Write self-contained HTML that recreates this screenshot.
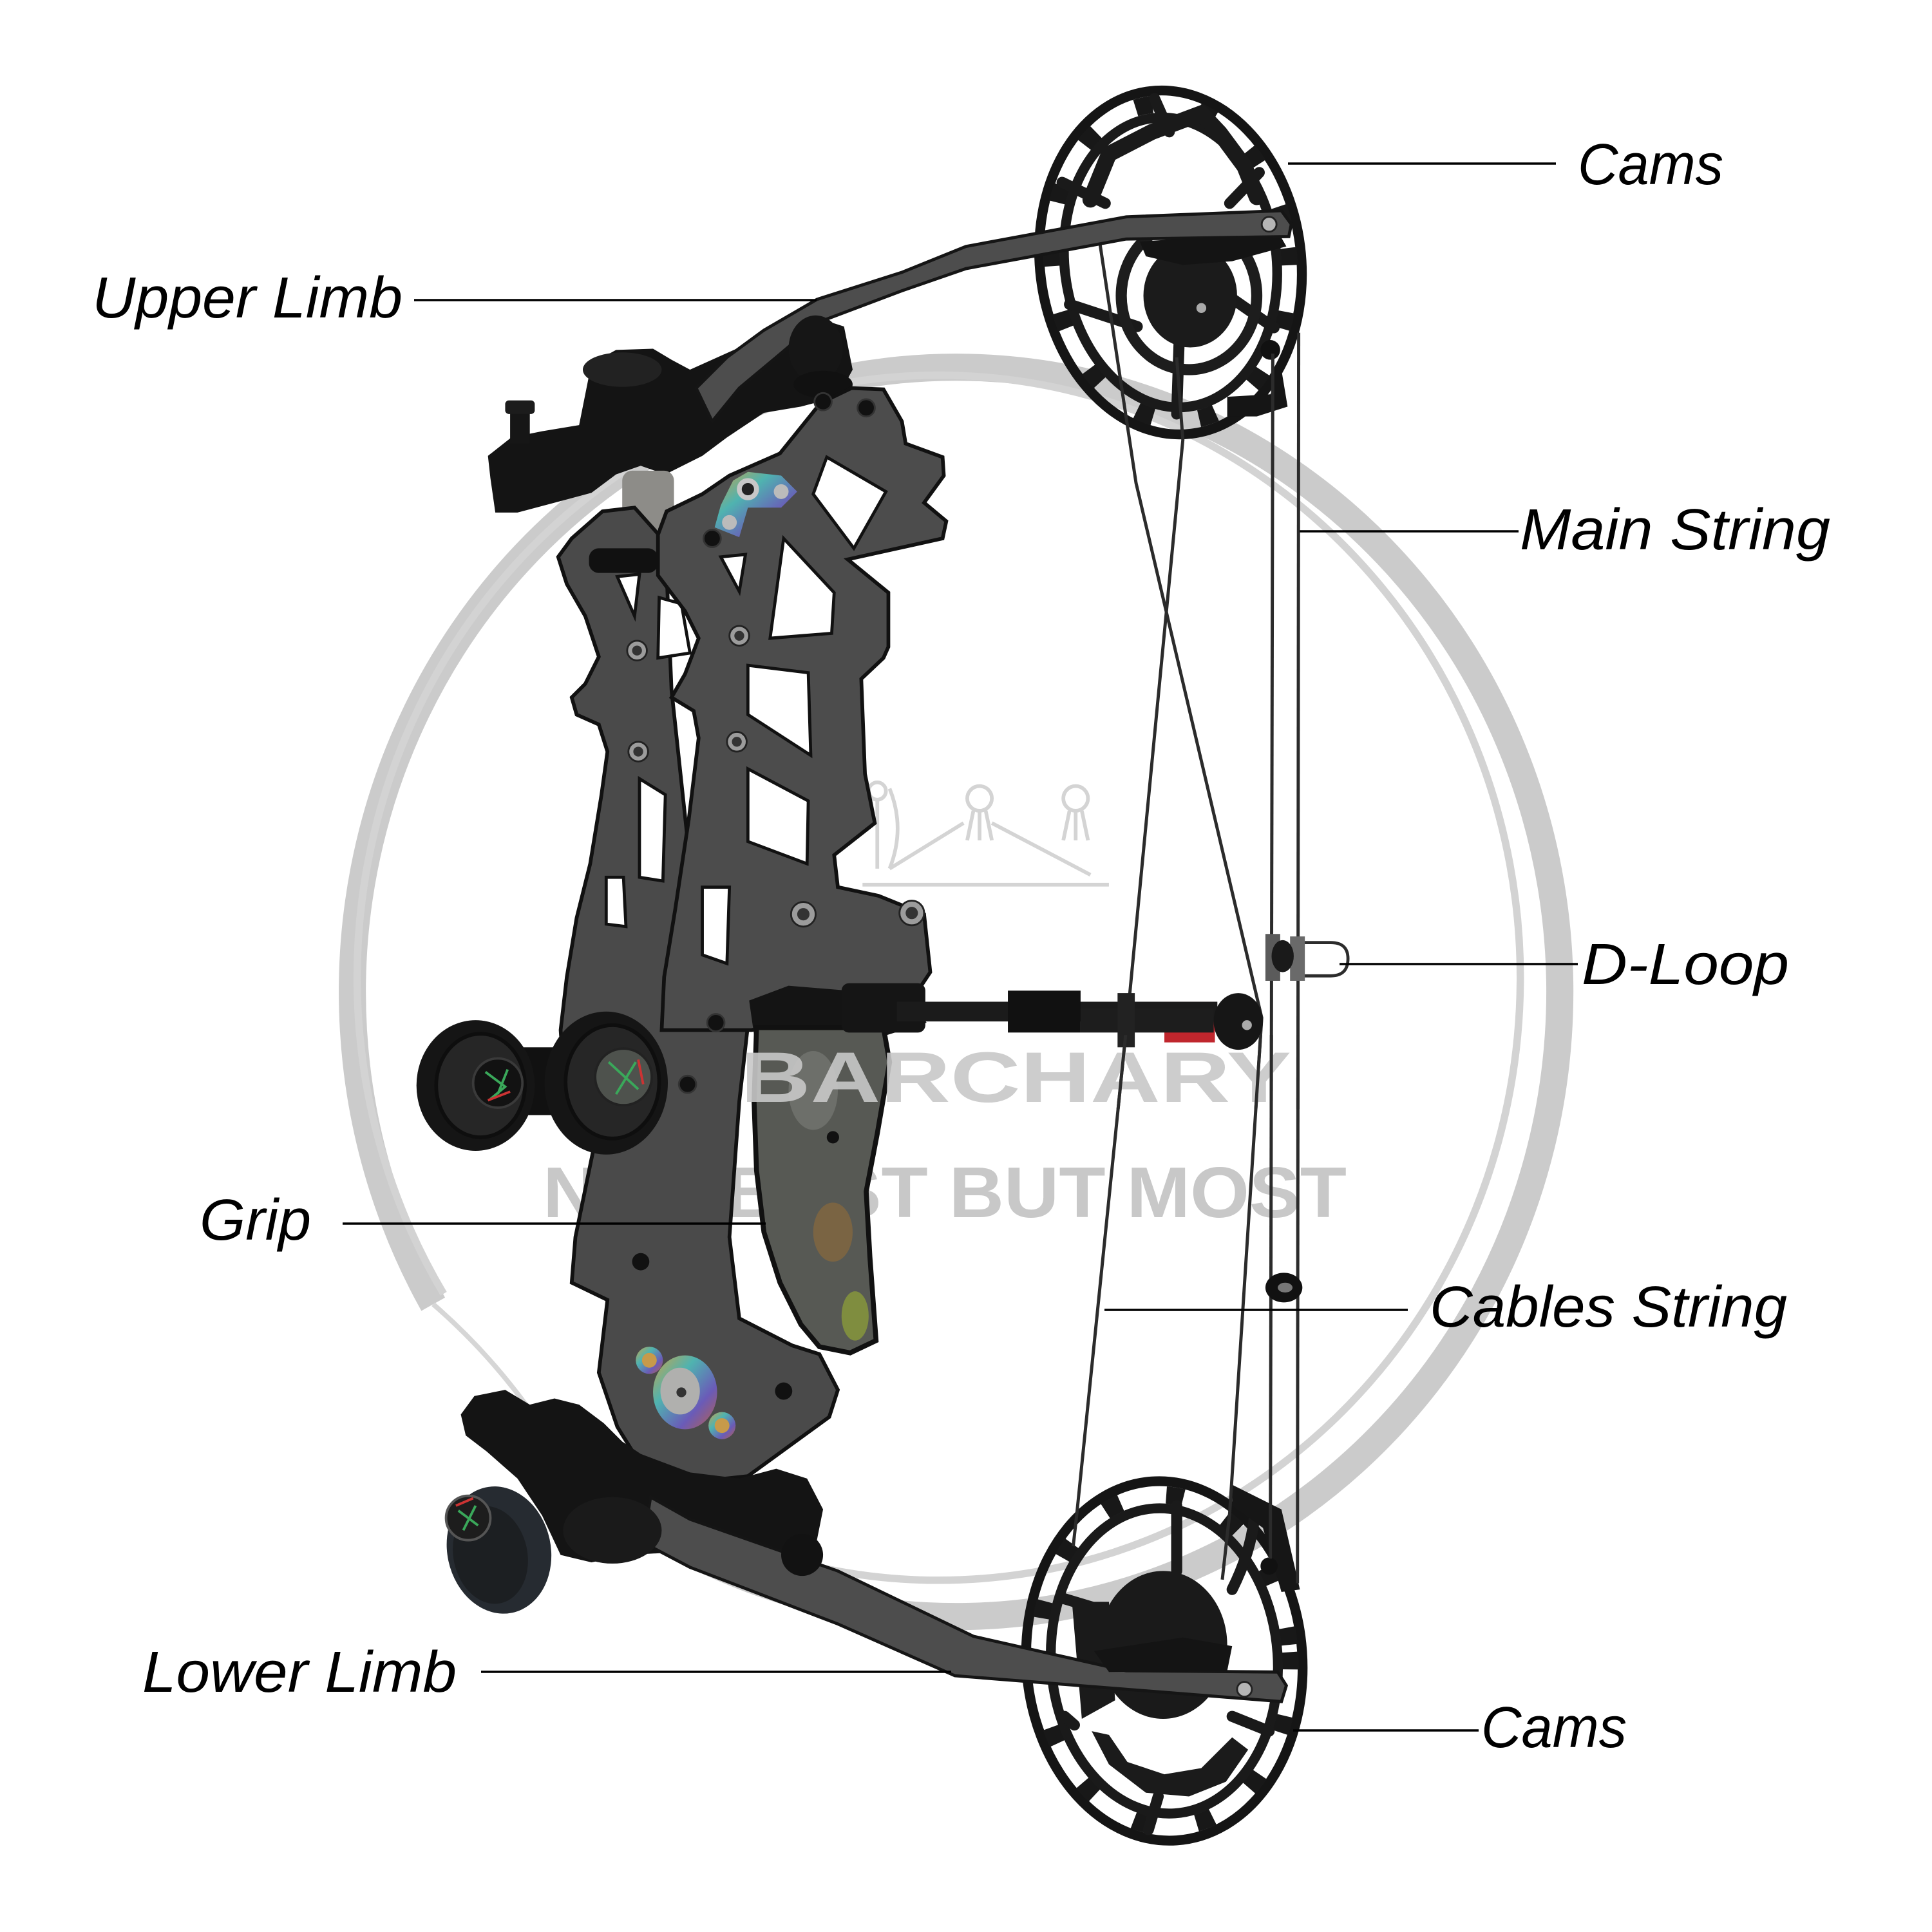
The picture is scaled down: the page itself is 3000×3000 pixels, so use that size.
<!DOCTYPE html>
<html><head><meta charset="utf-8">
<style>
html,body{margin:0;padding:0;background:#fff;}
svg{display:block;}
.lbl{font-family:"Liberation Sans",sans-serif;font-style:italic;font-size:90px;fill:#000;}
.wm{font-family:"Liberation Sans",sans-serif;font-weight:bold;font-size:111px;fill:#c8c8c8;}
</style></head><body>
<svg width="3000" height="3000" viewBox="0 0 3000 3000" xmlns="http://www.w3.org/2000/svg">
<defs>
 <linearGradient id="rb" x1="0" y1="0" x2="1" y2="1">
  <stop offset="0" stop-color="#c9a34a"/><stop offset=".35" stop-color="#4fb3b0"/><stop offset=".7" stop-color="#6a5bb8"/><stop offset="1" stop-color="#b8604a"/>
 </linearGradient>
 <clipPath id="txtband"><rect x="0" y="840" width="1568" height="60"/></clipPath>
 <clipPath id="wmclip"><rect x="1160" y="1500" width="1000" height="300"/></clipPath>
</defs>
<rect width="3000" height="3000" fill="#fff"/>

<!-- watermark ring & icons -->
<g transform="scale(1.913265)">
 <path d="M351.6,1058.5 A490,507 0 1 1 461,1193.4" fill="none" stroke="#cbcbcb" stroke-width="22"/>
 <path d="M360,1050 A472,489 0 1 1 463,1172" fill="none" stroke="#d3d3d3" stroke-width="6"/>
 <path d="M461,1193.4 A490,507 0 0 0 351.6,1058.5" fill="none" stroke="#d6d6d6" stroke-width="4"/>
 <g fill="none" stroke="#d4d4d4" stroke-width="3">
  <circle cx="795" cy="648" r="10"/><line x1="790" y1="658" x2="785" y2="682"/><line x1="800" y1="658" x2="805" y2="682"/><line x1="795" y1="658" x2="795" y2="682"/>
  <circle cx="873" cy="648" r="10"/><line x1="868" y1="658" x2="863" y2="682"/><line x1="878" y1="658" x2="883" y2="682"/><line x1="873" y1="658" x2="873" y2="682"/>
  <circle cx="712" cy="642" r="7"/><line x1="712" y1="650" x2="712" y2="705"/><path d="M722,640 Q735,672 722,705"/>
  <line x1="700" y1="718" x2="900" y2="718"/><line x1="722" y1="705" x2="782" y2="668"/><line x1="805" y1="668" x2="885" y2="710"/>
 </g>
</g>
<text x="843" y="1890" class="wm" textLength="1248" lengthAdjust="spacingAndGlyphs">NOT BEST BUT MOST</text>

<!-- bow -->
<g transform="scale(1.913265)">
 <!-- top cam -->
 <g transform="rotate(-7 950 213)" fill="none">
  <ellipse cx="950" cy="213" rx="106" ry="140" stroke="#151515" stroke-width="8"/>
  <ellipse cx="950" cy="213" rx="96" ry="129" stroke="#181818" stroke-width="14" stroke-dasharray="14 38"/>
  <ellipse cx="950" cy="213" rx="86" ry="118" stroke="#1a1a1a" stroke-width="8"/>
 </g>
 <g stroke="#1a1a1a" stroke-width="9" stroke-linecap="round" fill="none">
  <line x1="937" y1="80" x2="949" y2="107"/><line x1="862" y1="148" x2="897" y2="165"/>
  <line x1="868" y1="247" x2="923" y2="265"/><line x1="955" y1="336" x2="957" y2="276"/>
  <line x1="1034" y1="266" x2="1001" y2="243"/><line x1="1022" y1="140" x2="998" y2="165"/>
  <path d="M885,162 L900,125 L935,107 L975,92 L990,108 L1010,135 L1020,160" stroke-width="13"/>
 </g>
 <ellipse cx="965" cy="240" rx="55" ry="60" fill="none" stroke="#1d1d1d" stroke-width="9"/>
 <ellipse cx="966" cy="240" rx="38" ry="42" fill="#1b1b1b"/>
 <circle cx="975" cy="250" r="4" fill="#aaa"/>
 <circle cx="1031" cy="284" r="8" fill="#111"/>
 <path d="M996,322 L1031,320 L1040,300 L1045,330 L1020,338 L996,338 Z" fill="#151515"/>

 <!-- bottom cam -->
 <g transform="rotate(-4 945 1348)" fill="none">
  <ellipse cx="945" cy="1348" rx="112" ry="146" stroke="#151515" stroke-width="8"/>
  <ellipse cx="945" cy="1348" rx="102" ry="135" stroke="#181818" stroke-width="14" stroke-dasharray="14 38"/>
  <ellipse cx="945" cy="1348" rx="92" ry="124" stroke="#1a1a1a" stroke-width="8"/>
 </g>
 <g stroke="#1a1a1a" stroke-width="9" stroke-linecap="round" fill="none">
  <line x1="955" y1="1222" x2="955" y2="1275"/><path d="M1018,1232 Q1015,1260 1000,1290"/>
  <line x1="1030" y1="1405" x2="1000" y2="1393"/><line x1="940" y1="1458" x2="932" y2="1485"/>
  <line x1="872" y1="1400" x2="864" y2="1393"/><line x1="862" y1="1297" x2="892" y2="1306"/>
 </g>
 <ellipse cx="944" cy="1335" rx="52" ry="60" fill="#1a1a1a"/>
 <path d="M886,1405 L900,1432 L930,1455 L965,1458 L995,1446 L1013,1420 L1000,1410 L975,1435 L945,1440 L915,1430 L900,1408 Z" fill="#1b1b1b"/>
 <path d="M870,1300 L900,1300 L905,1380 L878,1395 Z" fill="#1a1a1a"/>
 <path d="M1000,1205 L1040,1225 L1055,1290 L1040,1292 L1025,1240 L1000,1222 Z" fill="#161616"/>
 <circle cx="1030" cy="1271" r="7" fill="#111"/>

 <!-- strings -->
 <g stroke="#2b2b2b" stroke-width="2.6" fill="none">
  <path d="M1054,270 L1053,1285"/>
  <path d="M1033,287 L1031,1265"/>
  <path d="M892,193 L922,392 L1024,826 L998,1228 L992,1282"/>
  <path d="M955,290 L960,357 L916,816 L874,1228 L871,1255"/>
 </g>
 <!-- D-loop -->
 <path d="M1048,765 L1080,765 Q1094,765 1094,778 Q1094,792 1080,792 L1048,792" fill="none" stroke="#2c2c2c" stroke-width="2.5"/>
 <rect x="1027" y="758" width="12" height="38" fill="#5b5b5b"/>
 <rect x="1047" y="760" width="12" height="36" fill="#6a6a6a"/>
 <ellipse cx="1041" cy="776" rx="9" ry="13" fill="#1a1a1a"/>
 <!-- peep -->
 <ellipse cx="1042" cy="1045" rx="15" ry="12" fill="#111"/>
 <ellipse cx="1043" cy="1045" rx="6" ry="4" fill="#777"/>

 <!-- top limb pocket -->
 <path d="M398,388 L396,370 L415,355 L440,350 L470,345 L475,320 L480,295 L500,284 L530,283 L545,292 L560,300 L600,282 L640,262 L660,257 L685,265 L692,300 L680,322 L650,330 L620,335 L590,355 L570,370 L540,385 L520,378 L500,385 L480,400 L450,408 L420,416 L402,416 Z" fill="#141414"/>
 <rect x="414" y="332" width="16" height="28" fill="#161616"/>
 <rect x="410" y="325" width="24" height="11" rx="3" fill="#1c1c1c"/>
 <ellipse cx="505" cy="300" rx="32" ry="14" fill="#222"/>
 <rect x="505" y="382" width="42" height="48" rx="8" fill="#8d8c88"/>

 <!-- upper limb -->
 <path d="M565,315 L590,290 L620,268 L663,243 L732,221 L784,200 L914,176 L1040,171 L1048,182 L1046,192 L914,194 L784,218 L732,236 L663,262 L630,290 L600,315 L578,342 Z" fill="#4d4d4d" stroke="#151515" stroke-width="2.5"/>
 <path d="M925,196 L990,192 L1040,193 L1044,200 L1000,212 L960,215 L930,208 Z" fill="#141414"/>
 <circle cx="1030" cy="182" r="6" fill="#b5b5b5" stroke="#222" stroke-width="1.5"/>
 <ellipse cx="662" cy="283" rx="22" ry="27" fill="#161616"/>
 <ellipse cx="668" cy="312" rx="24" ry="11" fill="#111"/>

 <!-- riser back plate -->
 <path d="M489,415 L464,437 L453,452 L460,474 L475,500 L486,533 L475,555 L464,566 L468,580 L486,588 L493,610 L488,646 L479,701 L468,745 L460,793 L455,836 L458,880 L470,920 L482,931 L467,1004 L464,1041 L493,1055 L486,1114 L501,1158 L519,1187 L570,1202 L607,1198 L673,1150 L680,1128 L665,1099 L643,1092 L600,1070 L592,1004 L600,894 L607,832 L620,800 L560,700 L545,560 L540,440 L515,412 Z" fill="#4a4a4a" stroke="#111" stroke-width="3"/>
 <g fill="#fff" stroke="#111" stroke-width="2.5">
  <path d="M501,468 L519,466 L515,500 Z"/>
  <path d="M535,485 L553,490 L560,530 L534,534 Z"/>
  <path d="M519,632 L540,645 L538,715 L519,712 Z"/>
  <path d="M492,712 L506,712 L508,752 L492,750 Z"/>
 </g>
 <rect x="478" y="445" width="56" height="20" rx="8" fill="#111"/>

 <!-- riser front plate -->
 <path d="M534,434 L541,415 L570,401 L592,386 L633,368 L666,327 L691,315 L717,316 L732,342 L735,360 L765,371 L766,386 L750,408 L768,423 L765,437 L688,454 L721,481 L721,525 L717,534 L699,551 L702,628 L710,668 L677,694 L680,720 L713,727 L750,742 L755,789 L735,819 L695,828 L640,830 L610,836 L537,836 L539,793 L548,738 L559,665 L567,599 L563,577 L545,566 L556,547 L567,518 L556,496 L534,467 Z" fill="#4c4c4c" stroke="#111" stroke-width="3"/>
 <g fill="#fff" stroke="#111" stroke-width="2.5">
  <path d="M671,371 L719,399 L693,445 L660,401 Z"/>
  <path d="M636,437 L677,481 L675,514 L625,518 Z"/>
  <path d="M607,540 L656,546 L658,613 L607,580 Z"/>
  <path d="M607,624 L656,650 L655,701 L607,683 Z"/>
  <path d="M570,720 L592,720 L590,782 L570,775 Z"/>
  <path d="M585,452 L605,450 L600,480 Z"/>
 </g>

 <!-- rainbow plate top -->
 <path d="M607,383 L634,386 L647,399 L634,412 L607,412 L600,436 L580,428 L585,410 L595,390 Z" fill="url(#rb)"/>
 <circle cx="607" cy="397" r="9" fill="#c8c8c8"/><circle cx="607" cy="397" r="5" fill="#222"/>
 <circle cx="634" cy="399" r="6" fill="#bbb"/><circle cx="592" cy="424" r="6" fill="#bbb"/>

 <!-- bolts -->
 <g fill="#111" stroke="#333" stroke-width="1.5">
  <circle cx="668" cy="326" r="7"/><circle cx="703" cy="331" r="7"/><circle cx="578" cy="437" r="7"/>
  <circle cx="581" cy="830" r="7"/><circle cx="558" cy="880" r="7"/><circle cx="619" cy="822" r="7"/>
  <circle cx="706" cy="822" r="7"/><circle cx="737" cy="819" r="7"/><circle cx="676" cy="923" r="6"/>
 </g>
 <g fill="#9c9c9c" stroke="#222" stroke-width="1.5">
  <circle cx="600" cy="516" r="8"/><circle cx="517" cy="528" r="8"/><circle cx="598" cy="602" r="8"/>
  <circle cx="518" cy="610" r="8"/><circle cx="652" cy="742" r="10"/><circle cx="740" cy="741" r="10"/>
 </g>
 <g fill="#333"><circle cx="600" cy="516" r="4"/><circle cx="517" cy="528" r="4"/><circle cx="598" cy="602" r="4"/><circle cx="518" cy="610" r="4"/><circle cx="652" cy="742" r="5"/><circle cx="740" cy="741" r="5"/></g>
 <circle cx="520" cy="1024" r="7" fill="#111"/><circle cx="636" cy="1129" r="7" fill="#111"/>

 <!-- grip -->
 <path d="M608,812 L640,800 L700,805 L740,812 L752,830 L720,840 L612,840 Z" fill="#141414"/>
 <path d="M614,834 L717,834 L722,862 L712,920 L703,967 L706,1020 L711,1088 L690,1098 L665,1093 L650,1075 L633,1041 L620,1000 L614,950 L612,894 Z" fill="#575954" stroke="#111" stroke-width="4"/>
 <ellipse cx="660" cy="885" rx="20" ry="32" fill="#6d6f6a"/>
 <ellipse cx="676" cy="1000" rx="16" ry="24" fill="#86683e" opacity=".75"/>
 <ellipse cx="694" cy="1068" rx="11" ry="20" fill="#8a9a3a" opacity=".8"/>
 <circle cx="676" cy="923" r="5" fill="#111"/>

 <!-- lower rainbow washer -->
 <ellipse cx="556" cy="1130" rx="26" ry="30" fill="url(#rb)"/>
 <circle cx="527" cy="1104" r="11" fill="url(#rb)"/><circle cx="586" cy="1157" r="11" fill="url(#rb)"/>
 <circle cx="527" cy="1104" r="6" fill="#c79a4a"/><circle cx="586" cy="1157" r="6" fill="#c79a4a"/>
 <ellipse cx="552" cy="1129" rx="16" ry="19" fill="#b0b0ae"/><circle cx="553" cy="1130" r="4" fill="#333"/>

 <!-- cable guard -->
 <rect x="683" y="798" width="68" height="40" rx="6" fill="#151515"/>
 <rect x="945" y="813" width="41" height="33" fill="#c0262d"/>
 <rect x="728" y="813" width="260" height="16" fill="#1b1b1b"/>
 <rect x="877" y="818" width="108" height="20" fill="#1d1d1d"/>
 <rect x="818" y="804" width="59" height="34" fill="#111"/>
 <rect x="907" y="806" width="14" height="44" fill="#222"/>
 <ellipse cx="1005" cy="829" rx="20" ry="23" fill="#161616"/>
 <circle cx="1012" cy="832" r="4" fill="#aaa"/>

 <!-- stabilizer balls -->
 <rect x="425" y="850" width="30" height="55" fill="#111"/>
 <ellipse cx="386" cy="881" rx="48" ry="53" fill="#151515"/>
 <ellipse cx="390" cy="881" rx="36" ry="42" fill="#262626" stroke="#0e0e0e" stroke-width="3"/>
 <circle cx="404" cy="879" r="20" fill="#121212" stroke="#3a3a3a" stroke-width="2"/>
 <path d="M394,870 L410,882 L398,892 M412,868 L404,888" stroke="#3aa85a" stroke-width="2" fill="none"/>
 <path d="M396,893 L414,886" stroke="#c33" stroke-width="2"/>
 <ellipse cx="492" cy="879" rx="50" ry="58" fill="#151515"/>
 <ellipse cx="497" cy="878" rx="38" ry="46" fill="#262626" stroke="#0e0e0e" stroke-width="3"/>
 <circle cx="506" cy="874" r="23" fill="#4e524d" stroke="#222" stroke-width="2"/>
 <path d="M494,862 L518,884 M500,888 L516,862" stroke="#3aa85a" stroke-width="2" fill="none"/>
 <path d="M518,860 L522,880" stroke="#c33" stroke-width="2"/>

 <!-- lower limb pocket -->
 <path d="M374,1148 L385,1133 L410,1128 L430,1140 L450,1135 L470,1140 L490,1155 L505,1170 L520,1180 L560,1195 L600,1200 L630,1192 L655,1200 L668,1225 L662,1255 L672,1290 L645,1292 L620,1282 L575,1268 L545,1260 L510,1262 L480,1268 L455,1262 L440,1230 L420,1200 L395,1178 L378,1165 Z" fill="#141414"/>
 <!-- lower limb -->
 <path d="M528,1215 L560,1233 L680,1275 L790,1328 L914,1356 L1037,1357 L1044,1368 L1040,1381 L914,1371 L775,1360 L680,1318 L560,1272 L522,1252 Z" fill="#4d4d4d" stroke="#151515" stroke-width="2.5"/>
 <path d="M888,1340 L960,1329 L1000,1336 L996,1356 L900,1357 Z" fill="#141414"/>
 <circle cx="1010" cy="1371" r="6" fill="#b5b5b5" stroke="#222" stroke-width="1.5"/>
 <circle cx="651" cy="1262" r="17" fill="#121212"/>
 <ellipse cx="497" cy="1242" rx="40" ry="27" fill="#1a1a1a"/>
 <!-- lower ball -->
 <ellipse cx="405" cy="1258" rx="42" ry="52" fill="#262b31" transform="rotate(-12 405 1258)"/>
 <ellipse cx="398" cy="1262" rx="30" ry="40" fill="#1c1f22" transform="rotate(-12 398 1262)"/>
 <circle cx="380" cy="1232" r="18" fill="#1d1d1d" stroke="#555" stroke-width="2"/>
 <path d="M372,1226 L388,1238 M386,1222 L376,1242" stroke="#3aa85a" stroke-width="2"/>
 <path d="M370,1222 L384,1216" stroke="#c33" stroke-width="2"/>
</g>

<!-- ARCHARY watermark overlays grip -->
<g clip-path="url(#wmclip)">
<text x="1150" y="1711" class="wm" textLength="855" lengthAdjust="spacingAndGlyphs" opacity="0.9">BARCHARY</text>
</g>
<!-- strings over watermark band -->
<g transform="scale(1.913265)">
 <g clip-path="url(#txtband)" stroke="#2b2b2b" stroke-width="2.6" fill="none">
  <path d="M1054,270 L1053,1285"/>
  <path d="M1033,287 L1031,1265"/>
  <path d="M892,193 L922,392 L1024,826 L998,1228 L992,1282"/>
  <path d="M955,290 L960,357 L916,816 L874,1228 L871,1255"/>
 </g>
</g>

<!-- leader lines -->
<g stroke="#000" stroke-width="3.5">
 <line x1="2000" y1="254" x2="2416" y2="254"/>
 <line x1="2018" y1="825" x2="2358" y2="825"/>
 <line x1="643" y1="466" x2="1268" y2="466"/>
 <line x1="2080" y1="1497" x2="2450" y2="1497"/>
 <line x1="532" y1="1900" x2="1189" y2="1900"/>
 <line x1="1715" y1="2034" x2="2186" y2="2034"/>
 <line x1="747" y1="2596" x2="1477" y2="2596"/>
 <line x1="2008" y1="2687" x2="2296" y2="2687"/>
</g>
<!-- labels -->
<text class="lbl" x="2450" y="286" textLength="226" lengthAdjust="spacingAndGlyphs">Cams</text>
<text class="lbl" x="2360" y="853" textLength="482" lengthAdjust="spacingAndGlyphs">Main String</text>
<text class="lbl" x="143" y="493" textLength="482" lengthAdjust="spacingAndGlyphs">Upper Limb</text>
<text class="lbl" x="2456" y="1528" textLength="322" lengthAdjust="spacingAndGlyphs">D-Loop</text>
<text class="lbl" x="310" y="1925" textLength="173" lengthAdjust="spacingAndGlyphs">Grip</text>
<text class="lbl" x="2220" y="2060" textLength="555" lengthAdjust="spacingAndGlyphs">Cables String</text>
<text class="lbl" x="221" y="2627" textLength="488" lengthAdjust="spacingAndGlyphs">Lower Limb</text>
<text class="lbl" x="2300" y="2713" textLength="226" lengthAdjust="spacingAndGlyphs">Cams</text>
</svg>
</body></html>
